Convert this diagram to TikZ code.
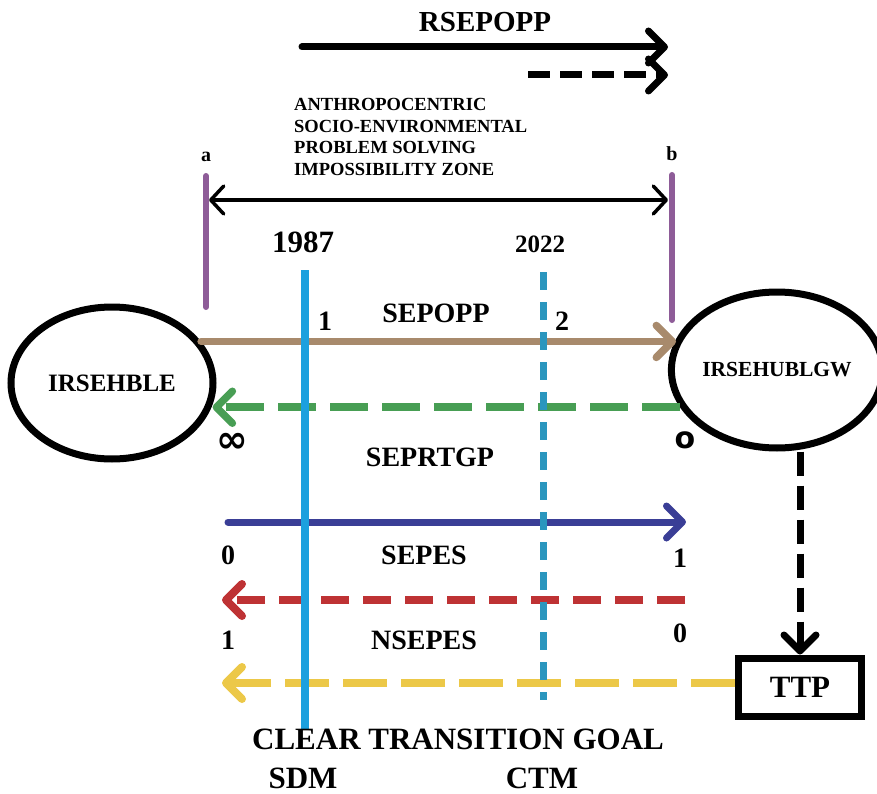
\documentclass[tikz,border=0pt]{standalone}
\usepackage{fontspec}
\setmainfont{Liberation Serif}
\newfontfamily\symfont{DejaVu Sans}
\usepackage{tikz}
\usetikzlibrary{
  arrows.meta,
  positioning,
  shapes.geometric,
}
\definecolor{zonepurple}{RGB}{142,92,152}
\definecolor{sepoppbrown}{RGB}{168,138,108}
\definecolor{seprtgpgreen}{RGB}{72,158,84}
\definecolor{sdmcyan}{RGB}{28,160,222}
\definecolor{ctmteal}{RGB}{42,150,190}
\definecolor{sepesblue}{RGB}{58,62,150}
\definecolor{nsepesred}{RGB}{190,50,52}
\definecolor{ttpyellow}{RGB}{236,200,72}
\tikzstyle{arrow} = [
  -{Straight Barb[length=16pt,width=32pt,round]},
  line width=7.5pt,
  line cap=round,
]
\tikzstyle{dasharrow} = [
  arrow,
  line cap=butt,
]
\tikzstyle{txt} = [inner sep=0pt, font=\bfseries\fontsize{28}{30}\selectfont]
\tikzstyle{txtsmall} = [inner sep=0pt, font=\bfseries\fontsize{20}{22}\selectfont]
\tikzstyle{txtbig} = [inner sep=0pt, font=\bfseries\fontsize{31}{33}\selectfont]

\begin{document}
\begin{tikzpicture}[x=1pt,y=-1pt]
\useasboundingbox (0,0) rectangle (877,794);

\node[ellipse,draw,line width=7pt,minimum width=202,minimum height=152,inner sep=0pt,font=\bfseries\fontsize{25}{27}\selectfont] (irsehble) at (112,383) {IRSEHBLE};
\node[ellipse,draw,line width=7pt,minimum width=194,minimum height=156,inner sep=0pt,font=\bfseries\fontsize{21.5}{23}\selectfont] (irsehublgw) at (777,370) {IRSEHUBLGW};
\node[rectangle,draw,line width=7pt,minimum width=123,minimum height=58,txtbig] (ttp) at (800,687) {TTP};

\node[txt,font=\bfseries\fontsize{29}{31}\selectfont] (rsepopp) at (485,22) {RSEPOPP};
\coordinate (rs1) at (302,47);
\coordinate (rs2) at (668,47);
\coordinate (rd1) at (528,75);
\coordinate (rd2) at (668,75);
\draw[arrow,line width=7pt] (rs1) -- (rs2);
\draw[dasharrow,line width=7pt,dash pattern=on 22pt off 10pt] (rd1) -- (rd2);

\node[inner sep=0pt,anchor=north west,align=left,font=\bfseries\fontsize{18.5}{21.7}\selectfont] (zone) at (294,98) {ANTHROPOCENTRIC\\SOCIO-ENVIRONMENTAL\\PROBLEM SOLVING\\IMPOSSIBILITY ZONE};

\coordinate (atop) at (206,176);
\coordinate (abot) at (206,307);
\coordinate (btop) at (672,175);
\coordinate (bbot) at (672,320);
\node[txtsmall] (a) [above=14pt of atop] {a};
\node[txtsmall] (b) [above=14pt of btop] {b};
\draw[zonepurple,line width=6pt,line cap=round] (atop) -- (abot);
\draw[zonepurple,line width=6pt,line cap=round] (btop) -- (bbot);
\coordinate (za) at (209,200);
\coordinate (zb) at (668,200);
\draw[{Straight Barb[length=13pt,width=28pt,round]}-{Straight Barb[length=13pt,width=28pt,round]},line width=3.5pt] (za) -- (zb);

\draw[arrow,sepoppbrown] (irsehble.25) -- (irsehble.25 -| irsehublgw.163);
\draw[dasharrow,seprtgpgreen,dash pattern=on 38pt off 14pt] (irsehublgw.201) -- (irsehublgw.201 -| irsehble.348);

\coordinate (se1) at (228,522);
\coordinate (se2) at (686,522);
\coordinate (ns1) at (685,600);
\coordinate (ns2) at (222,600);
\coordinate (tt2) at (222,683);
\draw[arrow,sepesblue,line width=7pt] (se1) -- (se2);
\draw[dasharrow,nsepesred,line width=8pt,dash pattern=on 28pt off 14pt] (ns1) -- (ns2);
\draw[dasharrow,ttpyellow,line width=8pt,dash pattern=on 44pt off 14pt] (ttp.west |- tt2) -- (tt2);
\draw[dasharrow,line width=7pt,dash pattern=on 24pt off 10pt] (irsehublgw.south -| ttp.north) -- (ttp.north);

\coordinate (sdmtop) at (305,270);
\coordinate (sdmbot) at (305,730);
\coordinate (ctmtop) at (543,272);
\coordinate (ctmbot) at (543,700);
\draw[sdmcyan,line width=7.5pt] (sdmtop) -- (sdmbot);
\draw[ctmteal,line width=7pt,dash pattern=on 18pt off 12pt] (ctmtop) -- (ctmbot);

\node[txtbig] (y1987) at (303,242) {1987};
\node[txt,font=\bfseries\fontsize{25}{27}\selectfont] (y2022) at (540,244) {2022};
\node[txt] (one) at (325,321) {1};
\node[txt] (sepopp) at (436,313) {SEPOPP};
\node[txt] (two) at (562,321) {2};
\node[txt,font=\symfont\bfseries\fontsize{38}{40}\selectfont] (inf) at (232,443) {∞};
\node[txt,font=\symfont\bfseries\fontsize{30}{32}\selectfont] (zero) at (685,440) {o};
\node[txt] (seprtgp) at (430,457) {SEPRTGP};
\node[txt] (s0) at (228,555) {0};
\node[txt] (sepes) at (424,555) {SEPES};
\node[txt] (s1) at (680,558) {1};
\node[txt] (n1) at (228,640) {1};
\node[txt] (nsepes) at (424,640) {NSEPES};
\node[txt] (n0) at (680,633) {0};

\node[txtbig] (goal) at (458,739) {CLEAR TRANSITION GOAL};
\node[txtbig] (sdm) at (303,778) {SDM};
\node[txtbig] (ctm) at (542,778) {CTM};
\end{tikzpicture}
\end{document}
